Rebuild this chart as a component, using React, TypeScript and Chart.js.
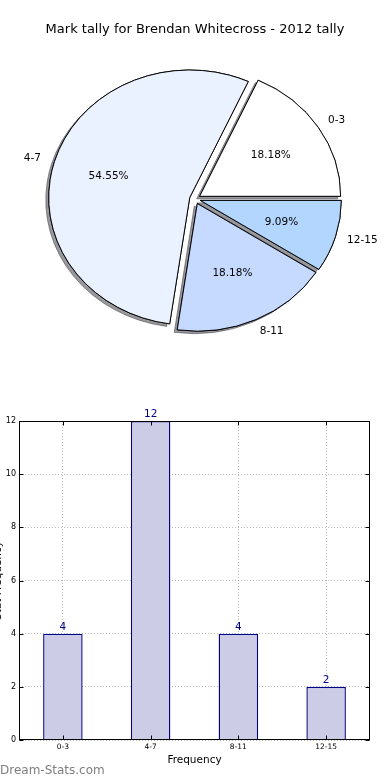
import React, { useEffect, useRef } from "react";
import { Chart, registerables } from "chart.js";

Chart.register(...registerables);

// ---------- data ----------
const TITLE = "Mark tally for Brendan Whitecross - 2012 tally";
const categories = ["0-3", "4-7", "8-11", "12-15"];
const counts = [4, 12, 4, 2];
const pieColors = ["#FFFFFF", "#EBF2FF", "#C6D9FF", "#B3D6FF"];
const yTickValues = [0, 2, 4, 6, 8, 10, 12];
const X_TITLE = "Frequency";
const Y_TITLE = "Stat Frequency";
const WATERMARK = "Dream-Stats.com";

// ---------- style ----------
const FONT = "'DejaVu Sans', Verdana, sans-serif";
const PIE_RADIUS = 141;
const PIE_Y_SCALE = 0.905;
const EXPLODE = 5.5;
const SHADOW_DX = -3;
const SHADOW_DY = 2.5;
const BAR_FILL = "#CCCCE6";
const BAR_EDGE = "#000088";

const total = counts.reduce((a, b) => a + b, 0);
const pctLabels = counts.map((c) => ((c / total) * 100).toFixed(2) + "%");

// Chart.js draws clockwise; matplotlib counter-clockwise -> reverse order
const pieCats = [...categories].reverse();
const pieVals = [...counts].reverse();
const pieCols = [...pieColors].reverse();
const piePcts = [...pctLabels].reverse();

const piePaint = {
  id: "piePaint",
  beforeDatasetDraw(chart: any, args: any) {
    const ctx = chart.ctx;
    const arcs = args.meta.data;
    if (!arcs.length) return false;
    const cx = arcs[0].x;
    const cy = arcs[0].y;
    const drawAll = () => {
      for (let i = arcs.length - 1; i >= 0; i--) {
        const a = arcs[i];
        const mid = (a.startAngle + a.endAngle) / 2;
        ctx.save();
        ctx.translate(Math.cos(mid) * EXPLODE, Math.sin(mid) * EXPLODE);
        a.draw(ctx);
        ctx.restore();
      }
    };
    // shadow pass
    ctx.save();
    ctx.translate(cx, cy);
    ctx.scale(1, PIE_Y_SCALE);
    ctx.translate(-cx, -cy);
    ctx.shadowColor = "rgba(50,50,60,0.5)";
    ctx.shadowOffsetX = SHADOW_DX;
    ctx.shadowOffsetY = SHADOW_DY;
    ctx.shadowBlur = 0;
    drawAll();
    ctx.restore();
    // main pass
    ctx.save();
    ctx.translate(cx, cy);
    ctx.scale(1, PIE_Y_SCALE);
    ctx.translate(-cx, -cy);
    drawAll();
    ctx.restore();
    return false;
  },
  afterDatasetsDraw(chart: any) {
    const ctx = chart.ctx;
    const arcs = chart.getDatasetMeta(0).data;
    ctx.save();
    ctx.font = "10.5px " + FONT;
    ctx.fillStyle = "#000";
    ctx.textBaseline = "middle";
    arcs.forEach((a: any, i: number) => {
      const mid = (a.startAngle + a.endAngle) / 2;
      const c = Math.cos(mid);
      const s = Math.sin(mid);
      const R = a.outerRadius;
      const ld = EXPLODE + R * 1.1;
      ctx.textAlign = c > 0 ? "left" : "right";
      ctx.fillText(pieCats[i], a.x + c * ld - (c > 0 ? 2 : 0), a.y + s * ld * PIE_Y_SCALE);
      const pd = EXPLODE + R * 0.6;
      ctx.textAlign = "center";
      ctx.fillText(piePcts[i], a.x + c * pd, a.y + s * pd * PIE_Y_SCALE);
    });
    ctx.restore();
  },
};

const barPaint = {
  id: "barPaint",
  afterDatasetsDraw(chart: any) {
    const ctx = chart.ctx;
    const meta = chart.getDatasetMeta(0);
    ctx.save();
    ctx.font = "10.5px " + FONT;
    ctx.fillStyle = BAR_EDGE;
    ctx.textAlign = "center";
    ctx.textBaseline = "bottom";
    meta.data.forEach((b: any, i: number) => {
      ctx.fillText(String(counts[i]), b.x, b.y - 1);
    });
    ctx.restore();
  },
  afterDraw(chart: any) {
    const ctx = chart.ctx;
    const { left, right, top, bottom } = chart.chartArea;
    ctx.save();
    ctx.strokeStyle = "#000";
    ctx.lineWidth = 1;
    const L = Math.round(left) + 0.5;
    const R = Math.round(right) - 0.5;
    const T = Math.round(top) + 0.5;
    const B = Math.round(bottom) - 0.5;
    const ys = chart.scales.y;
    const xs = chart.scales.x;
    ctx.beginPath();
    yTickValues.forEach((v) => {
      const py = Math.round(ys.getPixelForValue(v)) + 0.5;
      ctx.moveTo(L, py);
      ctx.lineTo(L + 4, py);
      ctx.moveTo(R, py);
      ctx.lineTo(R - 4, py);
    });
    categories.forEach((_, i) => {
      const px = Math.round(xs.getPixelForValue(i)) + 0.5;
      ctx.moveTo(px, B);
      ctx.lineTo(px, B - 4);
      ctx.moveTo(px, T);
      ctx.lineTo(px, T + 4);
    });
    ctx.stroke();
    ctx.strokeRect(L, T, R - L, B - T);
    ctx.restore();
  },
};

export default function App() {
  const pieRef = useRef<HTMLCanvasElement>(null);
  const barRef = useRef<HTMLCanvasElement>(null);

  useEffect(() => {
    document.body.style.margin = "0";
    Chart.defaults.font.family = FONT;
    Chart.defaults.color = "#000";

    const pie = new Chart(pieRef.current as HTMLCanvasElement, {
      type: "pie",
      data: {
        labels: pieCats,
        datasets: [
          {
            data: pieVals,
            backgroundColor: pieCols,
            borderColor: "#000",
            borderWidth: 1,
            radius: PIE_RADIUS,
          } as any,
        ],
      },
      options: {
        responsive: false,
        animation: false,
        rotation: 90,
        radius: PIE_RADIUS,
        layout: { padding: { top: 0, bottom: 49.6, left: 0, right: 0 } },
        plugins: {
          legend: { display: false },
          tooltip: { enabled: false },
          title: {
            display: true,
            text: TITLE,
            color: "#000",
            font: { family: FONT, size: 13, weight: "normal" },
            padding: { top: 22, bottom: 10 },
          },
        },
      } as any,
      plugins: [piePaint],
    });

    const bar = new Chart(barRef.current as HTMLCanvasElement, {
      type: "bar",
      data: {
        labels: categories,
        datasets: [
          {
            data: counts,
            backgroundColor: BAR_FILL,
            borderColor: BAR_EDGE,
            borderWidth: 1.4,
            barPercentage: 0.45,
            categoryPercentage: 1,
          },
        ],
      },
      options: {
        responsive: false,
        animation: false,
        layout: { padding: { top: 21, right: 20, left: 0, bottom: 0 } },
        plugins: {
          legend: { display: false },
          tooltip: { enabled: false },
          title: { display: false },
        },
        scales: {
          x: {
            offset: true,
            grid: {
              offset: false,
              color: "rgba(0,0,0,0.28)",
              drawTicks: false,
              lineWidth: 1,
            },
            border: { display: false, dash: [1, 2] },
            ticks: { font: { size: 7.5 }, color: "#000", padding: 3 },
            title: {
              display: true,
              text: X_TITLE,
              color: "#000",
              font: { size: 10.5 },
              padding: { top: 0, bottom: 13.7 },
            },
            afterFit: (s: any) => {
              s.height = 40;
            },
          },
          y: {
            min: 0,
            max: 12,
            afterBuildTicks: (s: any) => {
              s.ticks = yTickValues.map((v) => ({ value: v }));
            },
            grid: {
              color: "rgba(0,0,0,0.28)",
              drawTicks: false,
              lineWidth: 1,
            },
            border: { display: false, dash: [1, 2] },
            ticks: { font: { size: 8 }, color: "#000", padding: 3 },
            title: {
              display: true,
              text: Y_TITLE,
              color: "#000",
              font: { size: 10.5 },
              padding: { top: 2, bottom: 0 },
            },
            afterFit: (s: any) => {
              s.width = 29;
            },
          },
        },
      } as any,
      plugins: [barPaint],
    });

    return () => {
      pie.destroy();
      bar.destroy();
    };
  }, []);

  return (
    <div
      style={{
        position: "relative",
        width: 390,
        height: 780,
        overflow: "hidden",
        background: "#fff",
      }}
    >
      <canvas
        ref={pieRef}
        width={390}
        height={400}
        style={{ position: "absolute", left: 0, top: 0, width: 390, height: 400 }}
      />
      <canvas
        ref={barRef}
        width={400}
        height={380}
        style={{ position: "absolute", left: -10, top: 400, width: 400, height: 380 }}
      />
      <div
        style={{
          position: "absolute",
          left: 0,
          top: 762,
          fontFamily: FONT,
          fontSize: 12,
          lineHeight: "16px",
          color: "#7f7f7f",
          whiteSpace: "nowrap",
        }}
      >
        {WATERMARK}
      </div>
    </div>
  );
}
